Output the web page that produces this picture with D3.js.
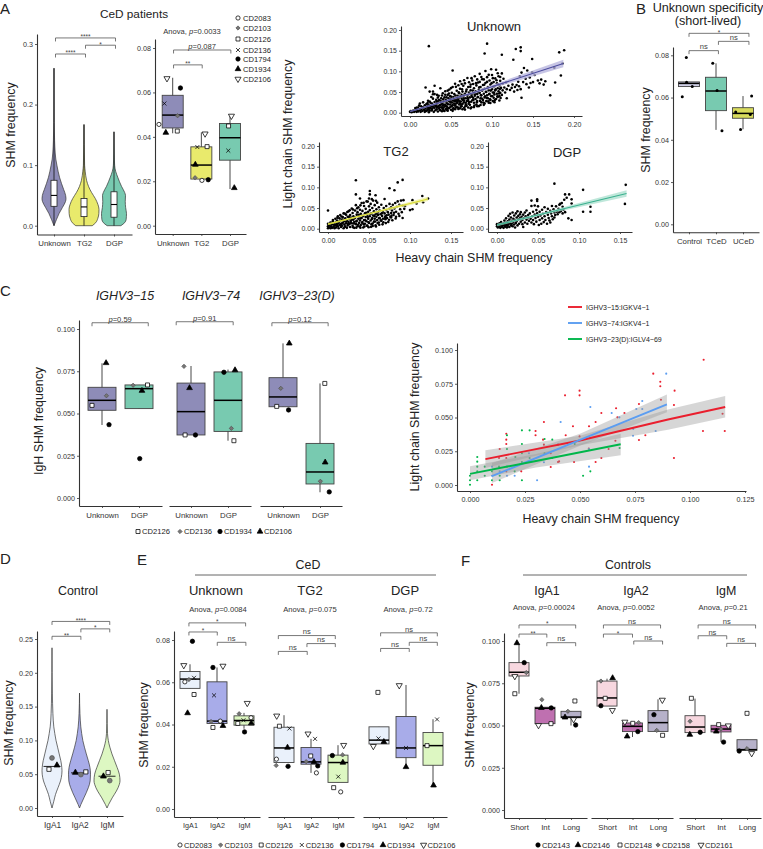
<!DOCTYPE html>
<html>
<head>
<meta charset="utf-8">
<script src="https://cdn.jsdelivr.net/npm/d3@7"></script>
<style>
body { margin: 0; background: #fff; }
svg { display: block; font-family: "Liberation Sans", Arial, sans-serif; }
</style>
</head>
<body>
<svg id="fig" width="763" height="849"></svg>
<script>
// ---------- data ----------
const cedCats = ['Unknown', 'TG2', 'DGP']
const isoCats = ['IgA1', 'IgA2', 'IgM']
const lifeCats = ['Short', 'Int', 'Long']
const bCats = ['Control', 'TCeD', 'UCeD']
const cCats = ['Unknown', 'DGP']

// violin outlines: [SHM value, relative width]
const violinUnknown = [[0,0],[.01,.2],[.02,.42],[.03,.7],[.04,.96],[.045,1],[.05,.97],[.06,.8],[.07,.62],[.08,.46],[.09,.34],[.10,.24],[.11,.15],[.12,.1],[.14,.05],[.17,.02],[.26,.005]]
const violinTG2 = [[0,.55],[.005,.78],[.012,.92],[.02,.99],[.027,1],[.035,.93],[.045,.75],[.055,.5],[.065,.3],[.075,.17],[.09,.08],[.10,.04],[.167,.005]]
const violinDGP = [[0,.55],[.005,.85],[.01,.97],[.02,1],[.03,.93],[.04,.9],[.05,.92],[.055,.85],[.065,.6],[.08,.3],[.09,.13],[.10,.05],[.12,.02],[.155,.005]]
const violinTops = [.26, .167, .155]
const violinBoxes = [[.032,.05,.075],[.015,.031,.045],[.014,.035,.056]]

const violinIgA1 = [[0,0],[.01,.18],[.02,.35],[.03,.6],[.04,.85],[.05,.98],[.055,1],[.06,.98],[.07,.88],[.08,.72],[.09,.56],[.10,.4],[.11,.28],[.12,.18],[.14,.09],[.17,.04],[.20,.015],[.237,0]]
const violinIgA2 = [[0,0],[.005,.12],[.015,.4],[.03,.8],[.04,.97],[.05,1],[.06,.95],[.07,.8],[.08,.62],[.09,.45],[.10,.3],[.11,.2],[.12,.12],[.14,.04],[.17,0]]
const violinIgM = [[0,0],[.005,.12],[.015,.4],[.025,.72],[.035,.95],[.04,1],[.05,.95],[.06,.78],[.07,.58],[.08,.38],[.09,.22],[.10,.1],[.11,.04],[.125,.015],[.146,0]]
const controlMedians = [.0615,.052,.047]
const controlPoints = [[0,0,.074,'g'],[0,-.11,.0573,'s'],[0,.18,.0632,'t'],[1,-.15,.0524,'t'],[1,.05,.0494,'g'],[1,.23,.0534,'s'],[2,-.13,.0469,'t'],[2,.04,.0524,'s'],[2,.1,.0405,'g']]

// boxes: [group, q1, median, q3, whisker low, whisker high]
const aBoxes = [[0,.044,.0498,.0587,.0416,.0666],[1,.021,.0273,.0355,.021,.042],[2,.0295,.0396,.046,.0165,.05]]
// points: [group, offset within the group, value, patient marker]
const aPoints = [[0,-.48,.0456,'o'],[0,.17,.0495,'d'],[0,.16,.0426,'s'],[0,-.29,.055,'x'],[0,.27,.062,'c'],[0,-.24,.0419,'t'],[0,-.2,.0663,'v'],
  [1,.02,.0204,'o'],[1,-.22,.0216,'d'],[1,.2,.0356,'s'],[1,-.14,.0354,'x'],[1,.24,.0207,'c'],[1,-.21,.0275,'t'],[1,.13,.0414,'v'],
  [2,-.05,.0449,'s'],[2,-.06,.0338,'x'],[2,.15,.017,'t'],[2,.05,.0494,'v']]

const bBoxes = [[0,.0652,.0667,.0674,.0652,.0674],[1,.0538,.0631,.0696,.0447,.0762],[2,.0502,.0525,.0552,.045,.0607]]
const bPoints = [[0,-.1,.079],[0,-.25,.0604],[0,-.09,.0672],[0,.12,.0652],[1,-.12,.0762],[1,.04,.0633],[1,.22,.0443],[2,.32,.0607],[2,-.27,.0532],[2,.27,.052],[2,-.09,.0449]]

const cBoxes15 = [[0,.0519,.0578,.0655,.0432,.0797],[1,.0529,.0647,.0669,.0529,.0669]]
const cPoints15 = [[0,-.27,.0548,'s'],[0,.12,.0605,'d'],[0,.19,.0434,'c'],[0,.11,.0799,'t'],[1,.23,.0669,'s'],[1,-.16,.0667,'d'],[1,.02,.0233,'c'],[1,.08,.0635,'t']]
const cBoxes74 = [[0,.0373,.0511,.068,.0373,.0781],[1,.0394,.0578,.0746,.0339,.076]]
const cPoints74 = [[0,-.16,.0373,'s'],[0,-.19,.0779,'d'],[0,.12,.0373,'c'],[0,-.04,.0651,'t'],[1,.16,.0339,'s'],[1,.09,.0412,'d'],[1,-.11,.0744,'c'],[1,.19,.0757,'t']]
const cBoxes23 = [[0,.054,.0598,.0712,.054,.0915],[1,.0083,.0154,.0323,.0034,.0678]]
const cPoints23 = [[0,-.17,.0542,'s'],[0,-.06,.0649,'d'],[0,.15,.0521,'c'],[0,.17,.0915,'t'],[1,.13,.0678,'s'],[1,.01,.0099,'d'],[1,.25,.0036,'c'],[1,.14,.0211,'t']]

const eBoxesUnknown = [[0,.0571,.0615,.0651,.0571,.0685],[1,.0405,.0416,.0602,.0405,.067],[2,.0397,.0419,.0441,.038,.0455]]
const ePointsUnknown = [[0,-.19,.0602,'o'],[0,-.04,.0613,'d'],[0,.15,.0542,'s'],[0,.15,.0621,'x'],[0,.09,.0794,'c'],[0,-.09,.0454,'t'],[0,-.23,.068,'v'],
  [1,.12,.0416,'o'],[1,-.22,.0414,'d'],[1,-.15,.0386,'s'],[1,-.11,.0538,'x'],[1,-.15,.067,'c'],[1,.22,.0394,'t'],[1,.22,.0677,'v'],
  [2,.26,.0432,'o'],[2,-.18,.0451,'d'],[2,-.23,.0405,'s'],[2,-.02,.042,'x'],[2,.02,.0365,'c'],[2,.27,.0406,'t'],[2,.12,.0501,'v']]
const eBoxesTG2 = [[0,.022,.0289,.0387,.022,.0444],[1,.0212,.0223,.0291,.0171,.0332],[2,.0126,.022,.0255,.0126,.0302]]
const ePointsTG2 = [[0,-.28,.0236,'o'],[0,-.29,.0206,'d'],[0,-.17,.0392,'s'],[0,.2,.0381,'x'],[0,.15,.0202,'c'],[0,.13,.0291,'t'],[0,-.27,.0441,'v'],
  [1,.2,.0171,'o'],[1,-.18,.0224,'d'],[1,-.01,.0251,'s'],[1,.15,.0332,'x'],[1,.25,.0204,'c'],[1,.11,.0223,'t'],[1,-.11,.0356,'v'],
  [2,.1,.0081,'o'],[2,.17,.0256,'d'],[2,-.16,.0101,'s'],[2,.01,.0153,'x'],[2,-.21,.0253,'c'],[2,.18,.022,'t'],[2,.21,.0302,'v']]
const eBoxesDGP = [[0,.0308,.0326,.0389,.0308,.0389],[1,.0243,.0289,.0438,.0199,.0587],[2,.0207,.03,.0362,.0112,.0425]]
const ePointsDGP = [[0,-.04,.0552,'s'],[0,-.02,.0334,'x'],[0,.18,.0318,'t'],[0,-.21,.0297,'v'],[1,0,.0289,'x'],[1,0,.0199,'t'],[1,-.25,.0585,'v'],[2,-.22,.03,'s'],[2,.15,.0424,'x'],[2,.02,.0112,'t']]

const fBoxesA1 = [[0,.0793,.0815,.0872,.0688,.0984],[1,.0511,.0602,.0608,.0511,.0608],[2,.0546,.055,.0584,.05,.0584]]
const fPointsA1 = [[0,-.16,.0688,'s'],[0,-.16,.0791,'v'],[0,-.08,.0988,'t'],[0,.2,.0872,'c'],[0,.28,.0813,'d'],
  [1,-.12,.0653,'d'],[1,-.14,.0605,'t'],[1,.24,.0604,'c'],[1,.23,.0511,'s'],[1,-.25,.0501,'v'],
  [2,.15,.0645,'s'],[2,-.12,.0584,'d'],[2,-.23,.0548,'t'],[2,.1,.0536,'v'],[2,.18,.0503,'c']]
const fBoxesA2 = [[0,.0615,.0663,.0763,.0615,.0777],[1,.0464,.0495,.0515,.0432,.0515],[2,.0465,.0517,.0588,.0465,.0655]]
const fPointsA2 = [[0,-.24,.0617,'c'],[0,-.24,.0763,'d'],[0,-.07,.0661,'s'],[0,.22,.0781,'t'],[0,.21,.059,'v'],
  [1,-.3,.0521,'v'],[1,.01,.0513,'s'],[1,.24,.0517,'d'],[1,.21,.0464,'c'],[1,-.21,.0436,'t'],
  [2,-.16,.0564,'c'],[2,.17,.0651,'v'],[2,-.05,.0471,'d'],[2,.18,.0442,'s']]
const fBoxesM = [[0,.0458,.0491,.0558,.0458,.0659],[1,.0462,.0479,.0501,.0402,.0501],[2,.0353,.0357,.0416,.0353,.0416]]
const fPointsM = [[0,-.14,.0661,'s'],[0,-.19,.0525,'d'],[0,-.2,.0446,'t'],[0,.2,.046,'c'],
  [1,-.09,.0505,'s'],[1,.28,.0499,'v'],[1,0,.0479,'d'],[1,-.18,.0465,'t'],[1,.1,.0402,'c'],
  [2,0,.0572,'s'],[2,0,.0363,'d'],[2,-.3,.0349,'c'],[2,.18,.0335,'v']]

// heavy vs light chain SHM, estimated from the dot clouds
const scatterUnknown = [[.023,.161],[.094,.167],[.091,.143],[.052,.102],[.129,.154],[.135,.158],[.135,.149],[.112,.14],[.149,.13],[.126,.128],[.182,.146],[.188,.151],[.186,.119],[.176,.109],[.184,.09],[.177,.073],[.171,.042],[.136,.036],[.118,.035],
[.000,.002],[.001,.004],[.002,.001],[.003,.003],[.004,.005],[.005,.002],[.006,.004],[.007,.008],[.008,.002],[.009,.006],[.010,.003],[.010,.011],[.011,.017],[.012,.006],[.012,.022],[.013,.002],[.014,.009],[.015,.004],[.016,.013],[.016,.025],[.017,.007],[.018,.002],[.018,.018],[.019,.010],[.020,.004],[.020,.021],[.021,.014],[.022,.008],[.022,.029],[.023,.001],[.024,.017],[.024,.005],[.025,.011],[.025,.024],
[.021,.006],[.022,.018],[.023,.012],[.024,.027],[.026,.015],[.027,.009],[.027,.022],[.028,.034],[.029,.002],[.029,.017],[.030,.012],[.030,.026],[.031,.006],[.032,.020],[.032,.031],[.033,.014],[.034,.003],[.034,.025],[.035,.010],[.035,.041],[.036,.018],[.037,.029],[.037,.006],[.038,.013],[.038,.035],[.039,.022],[.040,.008],[.040,.017],[.040,.047],[.019,.061],[.024,.051],[.028,.051],[.030,.065],[.030,.045],[.037,.059],[.033,.043],[.026,.038],
[.041,.012],[.041,.027],[.042,.004],[.042,.037],[.043,.019],[.043,.052],[.044,.009],[.044,.031],[.045,.023],[.045,.015],[.046,.043],[.046,.005],[.047,.028],[.047,.035],[.048,.012],[.048,.056],[.049,.020],[.049,.040],[.050,.025],[.050,.007],[.050,.033],[.051,.016],[.051,.048],[.052,.030],[.052,.062],[.053,.011],[.053,.038],[.054,.022],[.054,.045],[.055,.018],[.055,.070],[.056,.028],[.056,.034],[.057,.014],[.057,.053],[.058,.041],[.058,.024],[.059,.009],[.059,.031],[.060,.047],[.060,.037],[.060,.020],[.061,.058],[.061,.076],[.062,.027],[.062,.015],[.063,.043],[.063,.034],[.064,.051],[.064,.021],[.065,.065],[.065,.039],[.066,.012],[.066,.029],[.067,.046],[.067,.071],[.068,.035],[.068,.024],[.069,.056],[.069,.017],[.070,.041],[.070,.084],[.071,.031],[.071,.062],[.072,.049],[.072,.026],[.073,.037],[.073,.019],[.074,.054],[.074,.068],[.075,.043],[.075,.013],[.076,.030],[.076,.078],[.077,.047],[.077,.036],[.078,.059],[.078,.024],[.079,.041],[.079,.088],[.080,.052],[.080,.033],[.081,.066],[.081,.020],[.082,.045],[.082,.028],[.083,.073],[.083,.038],[.084,.056],[.084,.016],[.085,.048],[.085,.094],[.086,.035],[.086,.062],[.087,.025],[.087,.042],[.088,.081],[.088,.053],[.089,.031],[.089,.067],[.090,.046],[.090,.019],[.091,.037],[.091,.058],[.092,.101],[.092,.072],[.093,.028],[.093,.050],[.094,.042],[.094,.086],[.095,.062],[.095,.035],[.096,.024],[.096,.054],[.097,.078],[.097,.046],[.098,.068],[.098,.031],[.099,.105],[.099,.040],[.100,.057],[.100,.091],[.101,.049],[.101,.028],[.102,.074],[.102,.036],[.103,.064],[.103,.044],[.104,.083],[.104,.054],[.105,.104],[.105,.033],[.106,.071],[.106,.046],[.107,.059],[.107,.038],[.108,.088],[.108,.052],[.109,.040],[.109,.066],[.110,.077],[.110,.048],[.111,.060],[.112,.095],[.112,.043],[.113,.070],[.113,.054],[.114,.082],[.115,.061],[.116,.049],[.117,.073],[.118,.057],[.120,.065],[.122,.055],[.124,.060],[.125,.068],[.127,.051],[.128,.062],[.130,.067],[.131,.055],[.132,.075],[.133,.064],[.134,.088],[.135,.057],[.136,.097],[.138,.074],[.139,.108],[.141,.082],[.142,.069],[.143,.102],[.145,.061],[.146,.085],[.147,.072],[.149,.098],[.150,.074],[.152,.091],[.156,.078],[.158,.071],[.160,.080],[.165,.076],[.163,.068],
[.0135,.0155],[.0085,.0125],[.0065,.0115],[.0185,.0045],[.0215,.0235],[.0235,.0095],[.0265,.0055],[.0285,.0125],[.0315,.0165],[.0325,.0085],[.0335,.0235],[.0345,.0155],[.0355,.0305],[.0365,.0065],[.0375,.0195],[.0385,.0265],[.0395,.0115],[.0405,.0325],[.0415,.0055],[.0425,.0155],[.0435,.0275],[.0445,.0375],[.0455,.0105],[.0465,.0205],[.0475,.0465],[.0485,.0295],[.0495,.0145],[.0505,.0385],[.0515,.0245],[.0525,.0095],[.0535,.0315],[.0545,.0175],[.0555,.0415],[.0565,.0225],[.0575,.0345],[.0585,.0125],[.0595,.0495],[.0605,.0275],[.0615,.0395],[.0625,.0195],[.0635,.0565],[.0645,.0305],[.0655,.0245],[.0665,.0435],[.0675,.0155],[.0685,.0515],[.0695,.0285],[.0705,.0355],[.0715,.0215],[.0725,.0455],[.0735,.0625],[.0745,.0265],[.0755,.0385],[.0765,.0535],[.0775,.0315],[.0785,.0175],[.0795,.0445],[.0805,.0715],[.0815,.0255],[.0825,.0375],[.0835,.0495],[.0845,.0615],[.0855,.0285],[.0865,.0425],[.0875,.0345],[.0885,.0555],[.0895,.0245],[.0905,.0675],[.0915,.0395],[.0925,.0505],[.0935,.0355],[.0945,.0595],[.0955,.0275],[.0965,.0445],[.0975,.0325],[.0985,.0535],[.0995,.0715],[.1005,.0405],[.1015,.0625],[.1025,.0485],[.1035,.0305],[.1045,.0565],[.1055,.0785],[.1065,.0395],[.1075,.0685],[.1085,.0465],[.1095,.0575],[.1105,.0355],
[.015,.0115],[.022,.0125],[.027,.0165],[.033,.0275],[.036,.0125],[.041,.0195],[.044,.0155],[.047,.0105],[.049,.0265],[.052,.0185],[.054,.0285],[.056,.0125],[.058,.0285],[.061,.0225],[.063,.0155],[.066,.0345],[.068,.0195],
[.039,.0035],[.045,.0065],[.052,.0045],[.055,.0085],[.061,.0105],[.064,.0085],[.067,.0075],[.071,.0125],[.074,.0105],[.078,.0135],[.082,.0155],[.086,.0185],[.091,.0225],[.098,.0235],[.103,.0255],[.109,.0295],[.028,.0445],[.034,.0365],[.039,.0415],[.043,.0435],[.046,.0535],[.05,.0595],[.056,.0625],[.059,.0665],[.063,.0695],[.066,.0785],[.072,.0735],[.075,.0835],[.077,.0695],[.082,.0805],[.085,.0745],[.087,.0865],[.09,.0805],[.094,.0745],[.096,.0915],[.101,.0835],[.107,.0955],[.11,.0865]]
const scatterTG2 = [[.034,.117],[.091,.118],[.085,.112],[.075,.098],[.081,.093],[.034,.083],[.051,.091],[.051,.083],[.039,.073],[.058,.081],[.000,.044],[.122,.073],[.115,.079],[.116,.064],[.103,.069],[.108,.061],[.103,.047],[.100,.045],[.094,.055],[.091,.026],[.087,.031],[.083,.029],[.077,.027],[.070,.023],
[.000,.001],[.000,.006],[.000,.012],[.001,.003],[.002,.009],[.003,.001],[.003,.015],[.004,.006],[.005,.011],[.005,.002],[.006,.018],[.006,.021],[.007,.005],[.008,.012],[.008,.001],[.009,.008],[.009,.024],[.010,.016],[.010,.003],[.011,.011],[.011,.020],[.012,.030],[.012,.006],[.013,.014],[.013,.001],[.014,.025],[.014,.009],[.015,.019],[.015,.033],[.016,.004],[.016,.012],[.017,.022],[.017,.007],[.018,.028],[.018,.015],[.019,.001],[.019,.037],[.020,.010],[.020,.018],[.021,.025],[.021,.005],[.022,.013],[.022,.034],[.023,.020],[.023,.002],[.024,.029],[.024,.008],[.025,.016],[.025,.042],[.026,.023],[.026,.011],[.027,.033],[.027,.004],[.028,.019],[.028,.027],[.029,.049],[.029,.013],[.030,.038],[.030,.007],[.031,.022],[.031,.030],[.032,.016],[.032,.002],[.033,.044],[.033,.026],[.034,.011],[.034,.057],[.035,.034],[.035,.019],[.036,.006],[.036,.040],[.037,.024],[.037,.052],[.038,.014],[.038,.030],[.039,.020],[.039,.046],[.040,.036],[.040,.009],[.041,.026],[.041,.062],[.042,.016],[.042,.043],[.043,.031],[.043,.003],[.044,.021],[.044,.055],[.045,.037],[.045,.012],[.046,.028],[.046,.048],[.047,.066],[.047,.018],[.048,.034],[.048,.007],[.049,.041],[.049,.024],[.050,.073],[.050,.054],[.050,.014],[.051,.030],[.051,.045],[.052,.020],[.052,.060],[.053,.037],[.053,.011],[.054,.026],[.054,.050],[.055,.032],[.055,.068],[.056,.042],[.056,.017],[.057,.057],[.057,.024],[.058,.035],[.058,.008],[.059,.047],[.059,.029],[.060,.021],[.060,.063],[.061,.039],[.061,.033],[.062,.052],[.062,.015],[.063,.026],[.063,.044],[.064,.035],[.065,.058],[.065,.019],[.066,.031],[.067,.041],[.067,.024],[.068,.050],[.069,.037],[.069,.072],[.070,.030],[.071,.045],[.071,.055],[.072,.026],[.073,.040],[.074,.034],[.075,.048],[.075,.060],[.076,.029],[.077,.052],[.077,.038],[.078,.044],[.079,.058],[.080,.033],[.081,.049],[.082,.062],[.083,.041],[.084,.053],[.085,.066],[.086,.036],[.087,.058],[.088,.047],[.089,.068],[.090,.040],[.091,.056],[.092,.069],[.093,.048],
[.0015,.0075],[.0045,.0135],[.0075,.0095],[.0105,.0075],[.0125,.0165],[.0155,.0085],[.0175,.0125],[.0185,.0215],[.0205,.0055],[.0225,.0175],[.0245,.0115],[.0255,.0285],[.0275,.0145],[.0295,.0225],[.0305,.0035],[.0315,.0125],[.0325,.0275],[.0345,.0175],[.0365,.0095],[.0375,.0335],[.0385,.0055],[.0395,.0245],[.0415,.0145],[.0425,.0305],[.0435,.0105],[.0455,.0205],[.0465,.0385],[.0475,.0075],[.0485,.0285],[.0495,.0155],[.0515,.0355],[.0525,.0045],[.0535,.0235],[.0545,.0125],[.0565,.0305],[.0575,.0175],[.0595,.0385],[.0605,.0135],[.0625,.0255],[.0645,.0205],[.0655,.0375],[.0675,.0155],[.0695,.0265],[.0715,.0325],[.0745,.0215],[.0775,.0315],[.0805,.0385],
[.0345,.0025],[.0395,.0025],[.0445,.0055],[.0495,.0035],[.0545,.0065],[.0585,.0055],[.0625,.0095],[.0665,.0105],[.0705,.0135],[.0735,.0165],[.0785,.0205],[.0825,.0245],[.0115,.0265],[.0165,.0295],[.0205,.0365],[.0235,.0405],[.0265,.0445],[.0305,.0465],[.0355,.0495],[.0395,.0565],[.0435,.0625],[.0485,.0655],[.0535,.0715],[.0585,.0675]]
const scatterDGP = [[.070,.109],[.157,.106],[.156,.060],[.105,.094],[.105,.041],[.114,.053],[.114,.041],[.083,.083],[.088,.083],[.085,.075],[.091,.071],[.091,.061],[.087,.025],[.091,.021],[.049,.071],[.042,.068],[.049,.067],
[.000,.006],[.000,.011],[.001,.003],[.002,.009],[.003,.013],[.003,.005],[.004,.002],[.005,.008],[.005,.016],[.006,.011],[.006,.004],[.007,.007],[.008,.013],[.008,.002],[.009,.009],[.009,.020],[.010,.005],[.010,.014],[.011,.008],[.011,.025],[.012,.003],[.012,.012],[.013,.018],[.013,.007],[.014,.031],[.014,.011],[.015,.004],[.015,.022],[.016,.014],[.016,.036],[.017,.008],[.017,.027],[.018,.019],[.018,.012],[.019,.039],[.019,.006],[.020,.024],[.020,.016],[.021,.032],[.021,.010],[.022,.021],[.022,.003],[.023,.037],[.023,.014],[.024,.027],[.024,.018],[.025,.042],[.025,.008],[.026,.031],[.026,.022],[.027,.012],[.028,.035],[.028,.025],[.029,.017],[.029,.040],[.030,.029],[.031,.021],[.031,.011],[.032,.034],[.032,.004],[.033,.026],[.034,.015],[.034,.039],[.035,.030],[.036,.022],[.036,.044],[.037,.012],[.038,.033],[.038,.027],[.039,.019],[.040,.037],[.041,.024],[.042,.055],[.042,.015],[.043,.030],[.044,.041],[.044,.021],[.045,.011],[.046,.034],[.046,.056],[.047,.026],[.048,.045],[.048,.017],[.049,.037],[.050,.029],[.050,.054],[.051,.009],[.052,.041],[.052,.021],[.053,.032],[.054,.012],[.055,.046],[.055,.025],[.056,.036],[.057,.016],[.058,.052],[.058,.030],[.059,.021],[.060,.040],[.061,.012],[.062,.034],[.062,.048],[.063,.026],[.064,.020],[.065,.043],[.065,.015],[.066,.037],[.067,.055],[.067,.030],[.068,.023],[.069,.047],[.070,.039],[.070,.027],[.071,.033],[.072,.054],[.073,.041],[.074,.035],[.075,.048],[.076,.040],[.076,.058],[.077,.060],[.078,.043],[.079,.062],[.080,.037],[.080,.053],[.081,.046],[.082,.070],[.083,.040]]

const scatterRed = [[.1062,.0928],[.0833,.0825],[.0865,.0765],[.0865,.0731],[.0498,.0699],[.093,.0699],[.0432,.0664],[.0498,.0664],[.0868,.0632],[.0927,.0593],[.0768,.06],[.0664,.0568],[.0702,.0533],[.0597,.0533],[.1148,.0528],[.067,.0501],[.0571,.0467],[.0336,.0467],[.0468,.0435],[.0541,.0435],[.0298,.04],[.1059,.04],[.1158,.04],[.0298,.0368],[.0435,.0368],[.0797,.0368],[.0165,.038],[.0165,.0336],[.0165,.0304],[.0332,.0336],[.0768,.0333],[.0661,.0328],[.0336,.0299],[.04,.0299],[.0135,.0267],[.063,.0267],[.0367,.0235],[.0132,.02],[.0165,.02],[.0597,.02],[.0927,.02],[.0571,.017],[.0473,.017],[.04,.017],[.0405,.0175],[.0367,.0133],[.0233,.0101],[.0165,.0101],[.01,.0002],[.054,.027],[.0498,.036]]
const scatterBlue = [[.0892,.0825],[.0547,.0578],[.0783,.0622],[.0756,.0563],[.0783,.0563],[.0644,.0533],[.0679,.0501],[.0412,.0467],[.0742,.0415],[.0844,.04],[.0741,.0365],[.0512,.0331],[.0541,.0267],[.0541,.0136],[.0336,.0168],[.01,.0136],[.0135,.0101],[.0168,.0069],[.0203,.0069],[.0305,.0035],[.01,.0069],[.0268,.0235],[.04,.0299]]
const scatterGreen = [[0,.0002],[0,.0035],[0,.0069],[.0033,.0207],[.0033,.0173],[.0033,.0136],[.0033,.0101],[.0033,.0035],[.0067,.0136],[.0067,.0069],[.01,.0035],[.01,.0101],[.0135,.0069],[.0135,.0035],[.0132,.0136],[.0168,.0368],[.0168,.0267],[.0168,.0136],[.0206,.0207],[.0203,.0101],[.0236,.0035],[.0236,.0304],[.0236,.0235],[.0236,.017],[.0236,.0405],[.0271,.0405],[.0271,.02],[.0339,.0341],[.0339,.0235],[.0374,.0336],[.0374,.02],[.0476,.0304],[.0514,.0069],[.0547,.0101],[.068,.0274]]

// regression fits: [x, ci low, fit, ci high]
const fitUnknown = [[0,.001,.003,.005],[.08,.047,.05,.053],[.187,.110,.119,.128]]
const fitTG2 = [[0,.009,.011,.013],[.05,.034,.036,.038],[.122,.067,.072,.077]]
const fitDGP = [[0,.006,.009,.012],[.06,.035,.038,.041],[.158,.077,.085,.093]]
const fitRed = [[.007,.0126,.0192,.0257],[.05,.0295,.033,.0365],[.09,.041,.0485,.056],[.116,.050,.0578,.066]]
const fitBlue = [[.01,.0015,.0065,.0163],[.05,.029,.0335,.038],[.0895,.0538,.0598,.067]]
const fitGreen = [[0,.0035,.0082,.0138],[.03,.013,.0178,.023],[.0685,.0221,.0302,.038]]
const fitLegend = ['IGHV3\u221215:IGKV4\u22121', 'IGHV3\u221274:IGKV4\u22121', 'IGHV3\u221223(D):IGLV4\u221269']

// brackets: [from, to, value, label]
const aViolinBrackets = [[.05,2.05,.31,'****'],[1.05,2.05,.298,'*'],[.05,1.05,.2835,'****']]
const aBoxBrackets = [[.03,2.03,.0791,'p=0.087'],[.03,1.03,.0724,'**']]
const bBrackets = [[0,2.22,.0904,'*'],[1.09,2.22,.0866,'ns'],[0,1.09,.0822,'ns']]
const cBrackets = [[-.27,1.25,.1037,'p=0.59'],[-.4,1.14,.1043,'p=0.91'],[-.3,1.22,.1037,'p=0.12']]
const dBrackets = [[0,2.1,.276,'****'],[1.05,2.1,.265,'*'],[0,1.05,.254,'**']]
const eBrackets = [[[-.04,2.06,.0881,'*'],[-.04,1.01,.0838,'*'],[1.01,2.07,.0789,'ns']],
  [[-.21,1.9,.0821,'ns'],[.85,1.9,.0783,'ns'],[-.21,.86,.0746,'ns']],
  [[.06,2.16,.0834,'ns'],[1.12,2.16,.0789,'ns'],[.06,1.12,.076,'ns']]]
const fBrackets = [[[0,2.18,.1095,'*'],[0,1.07,.1041,'**'],[1.07,2.18,.099,'ns']],
  [[-.14,2.1,.1095,'ns'],[-.14,1,.1041,'*'],[1.05,2.18,.1,'ns']],
  [[.12,2.33,.1095,'ns'],[.12,1.22,.1031,'ns'],[1.22,2.33,.0986,'ns']]]

const legendA = [['o','CD2083'],['d','CD2103'],['s','CD2126'],['x','CD2136'],['c','CD1794'],['t','CD1934'],['v','CD2106']]
const legendC = [['s','CD2126'],['d','CD2136'],['c','CD1934'],['t','CD2106']]
const legendF = [['c','CD2143'],['t','CD2146'],['s','CD2148'],['d','CD2158'],['v','CD2161']]

// ---------- colours ----------
const purple = '#8e8cb8', yellow = '#e9ea6c', teal = '#78cab0'
const isoColours = ['#eaf1fb', '#a8ace9', '#ddf7c2']
const lifeColours = ['#f7d7df', '#bf70b0', '#b6b1c9']

// ---------- helpers ----------
const svg = d3.select('#fig')
const axisCol = '#333'
const tickSize = 7.2, catSize = 7.8, titleSize = 12.4, labelSize = 7.6

function text(parent, x, y, str, size, opts = {}) {
    return parent.append('text')
        .attr('x', x).attr('y', y)
        .attr('font-size', size)
        .attr('fill', opts.fill || '#222')
        .attr('text-anchor', opts.anchor || 'middle')
        .attr('font-style', opts.italic ? 'italic' : null)
        .text(str)
}

function vText(x, y, str, size) {
    svg.append('text')
        .attr('transform', `translate(${x},${y}) rotate(-90)`)
        .attr('text-anchor', 'middle')
        .attr('font-size', size)
        .attr('fill', '#222')
        .text(str)
}

// p labels carry an italic p
function pText(x, y, str, size) {
    let t = svg.append('text').attr('x', x).attr('y', y).attr('font-size', size)
        .attr('text-anchor', 'middle').attr('fill', '#333')
    let i = str.indexOf('p=')
    t.append('tspan').text(str.slice(0, i))
    t.append('tspan').attr('font-style', 'italic').text('p')
    t.append('tspan').text(str.slice(i + 1))
}

function extended(scale, a, b) {
    return d3.scaleLinear().domain([scale.invert(a), scale.invert(b)]).range([a, b])
}

function styleAxis(g, size) {
    g.select('.domain').attr('stroke', axisCol).attr('stroke-width', 1.1)
    g.selectAll('.tick line').attr('stroke', axisCol).attr('stroke-width', .8)
    g.selectAll('.tick text').attr('fill', '#333').attr('font-size', size).attr('font-family', 'inherit')
}

function yAxis(p, ticks, fmt, size) {
    let g = svg.append('g').attr('transform', `translate(${p.left},0)`)
        .call(d3.axisLeft(p.y).tickValues(ticks).tickFormat(d3.format(fmt)).tickSize(2).tickPadding(2).tickSizeOuter(0))
    styleAxis(g, size)
}

function catAxis(p, cats, size) {
    let g = svg.append('g').attr('transform', `translate(0,${p.bottom})`)
        .call(d3.axisBottom(p.x).tickValues(cats.map((c, i) => i)).tickFormat(i => cats[i]).tickSize(2).tickPadding(4).tickSizeOuter(0))
    styleAxis(g, size)
}

// px box: pixel frame of a panel, category centres and the y reference
function panel(f) {
    let sx = d3.scaleLinear().domain([0, f.n - 1]).range([f.first, f.last])
    let sy = d3.scaleLinear().domain([0, f.vmax]).range([f.zero, f.ymax])
    return {
        left: f.left, right: f.right, top: f.top, bottom: f.bottom,
        x: extended(sx, f.left, f.right), y: extended(sy, f.bottom, f.top)
    }
}

function drawBoxes(p, rows, colours, w) {
    let g = svg.append('g')
    rows.forEach(r => {
        let [i, q1, med, q3, lo, hi] = r
        let cx = p.x(i)
        g.append('line').attr('x1', cx).attr('x2', cx).attr('y1', p.y(lo)).attr('y2', p.y(hi))
            .attr('stroke', '#333').attr('stroke-width', .9)
        g.append('rect').attr('x', cx - w / 2).attr('width', w)
            .attr('y', p.y(q3)).attr('height', p.y(q1) - p.y(q3))
            .attr('fill', colours[i]).attr('stroke', '#444').attr('stroke-width', .9)
        g.append('line').attr('x1', cx - w / 2).attr('x2', cx + w / 2).attr('y1', p.y(med)).attr('y2', p.y(med))
            .attr('stroke', '#000').attr('stroke-width', 1.5)
    })
}

const symbols = { o: d3.symbolCircle, d: d3.symbolSquare, s: d3.symbolSquare, c: d3.symbolCircle, t: d3.symbolTriangle, v: d3.symbolTriangle, x: d3.symbolTimes, g: d3.symbolCircle }

function marker(parent, x, y, m, scale = 1) {
    let area = { o: 14, d: 9, s: 16, c: 15, t: 14, v: 16, x: 12, g: 16 }[m] * scale
    let fill = { o: '#fff', d: '#777', s: '#fff', c: '#000', t: '#000', v: '#fff', x: 'none', g: '#777' }[m]
    let rot = m === 'v' ? ' rotate(180)' : m === 'd' ? ' rotate(45)' : ''
    parent.append('path')
        .attr('d', d3.symbol().type(symbols[m]).size(area)())
        .attr('transform', `translate(${x},${y})${rot}`)
        .attr('fill', fill)
        .attr('stroke', m === 'g' || m === 'd' ? '#555' : '#000')
        .attr('stroke-width', .75)
}

function drawPoints(p, rows, scale) {
    let g = svg.append('g')
    rows.forEach(r => marker(g, p.x(r[0] + r[1]), p.y(r[2]), r[3], scale))
}

function drawBrackets(p, rows, size) {
    rows.forEach(r => {
        let x1 = p.x(r[0]), x2 = p.x(r[1]), y = p.y(r[2])
        svg.append('path')
            .attr('d', d3.line()([[x1, y + 3.5], [x1, y], [x2, y], [x2, y + 3.5]]))
            .attr('fill', 'none').attr('stroke', '#555').attr('stroke-width', .8)
        let cx = (x1 + x2) / 2
        if (r[3][0] === 'p') pText(cx, y - .8, r[3], size)
        else if (r[3] === 'ns') text(svg, cx, y - 1.2, 'ns', size, { fill: '#444' })
        else text(svg, cx, y + 1.5, r[3], 6.5, { fill: '#444' })
    })
}

function drawViolin(p, i, outline, colour, hw) {
    let w = d3.scaleLinear().domain([0, 1]).range([0, hw])
    let cx = p.x(i)
    svg.append('path')
        .datum(outline)
        .attr('d', d3.area().curve(d3.curveMonotoneY)
            .y(d => p.y(d[0])).x0(d => cx - w(d[1])).x1(d => cx + w(d[1])))
        .attr('fill', colour).attr('stroke', '#333').attr('stroke-width', .7)
}

function scatterPanel(f, pts, fit, line, band, title, tx, ty) {
    let x = d3.scaleLinear().domain([0, .05]).range([f.x0, f.x05])
    let y = d3.scaleLinear().domain([0, .2]).range([f.y0, f.y20])
    let ex = extended(x, f.left, f.right), ey = extended(y, f.bottom, f.top)
    let xg = svg.append('g').attr('transform', `translate(0,${f.bottom})`)
        .call(d3.axisBottom(ex).tickValues(f.xticks).tickFormat(d3.format('.2f')).tickSize(2).tickPadding(4).tickSizeOuter(0))
    let yg = svg.append('g').attr('transform', `translate(${f.left},0)`)
        .call(d3.axisLeft(ey).tickValues([0, .05, .1, .15, .2]).tickFormat(d3.format('.2f')).tickSize(2).tickPadding(2).tickSizeOuter(0))
    styleAxis(xg, 7); styleAxis(yg, 7)
    svg.append('g').selectAll('circle').data(pts).join('circle')
        .attr('cx', d => ex(d[0])).attr('cy', d => ey(d[1])).attr('r', 1.3).attr('fill', '#000')
    svg.append('path').datum(fit)
        .attr('d', d3.area().x(d => ex(d[0])).y0(d => ey(d[1])).y1(d => ey(d[3])))
        .attr('fill', band).attr('opacity', .75)
    svg.append('path').datum(fit)
        .attr('d', d3.line().x(d => ex(d[0])).y(d => ey(d[2])))
        .attr('fill', 'none').attr('stroke', line).attr('stroke-width', 1.1)
    text(svg, tx, ty, title, 13)
}

// ---------- panel letters ----------
text(svg, 0, 14, 'A', 15, { anchor: 'start' })
text(svg, 636, 14, 'B', 15, { anchor: 'start' })
text(svg, 0, 296, 'C', 15, { anchor: 'start' })
text(svg, 0, 564, 'D', 15, { anchor: 'start' })
text(svg, 137, 565, 'E', 15, { anchor: 'start' })
text(svg, 461, 566, 'F', 15, { anchor: 'start' })

// ---------- A: violins ----------
text(svg, 134, 18, 'CeD patients', 11.8)
vText(15, 125, 'SHM frequency', titleSize)
let aV = panel({ left: 37, right: 132, top: 34, bottom: 234.5, zero: 225.7, vmax: .3, ymax: 44, first: 54, last: 114, n: 3 })
;[violinUnknown, violinTG2, violinDGP].forEach((v, i) => {
    drawViolin(aV, i, v, [purple, yellow, teal][i], [12, 15, 12.5][i])
    let cx = aV.x(i)
    svg.append('line').attr('x1', cx).attr('x2', cx).attr('y1', aV.y(0)).attr('y2', aV.y(violinTops[i]))
        .attr('stroke', '#111').attr('stroke-width', .8)
    let b = violinBoxes[i]
    svg.append('rect').attr('x', cx - 3).attr('width', 6).attr('y', aV.y(b[2])).attr('height', aV.y(b[0]) - aV.y(b[2]))
        .attr('fill', '#fff').attr('stroke', '#222').attr('stroke-width', .8)
    svg.append('line').attr('x1', cx - 3).attr('x2', cx + 3).attr('y1', aV.y(b[1])).attr('y2', aV.y(b[1]))
        .attr('stroke', '#000').attr('stroke-width', 1.1)
})
yAxis(aV, [0, .1, .2, .3], '.1f', tickSize)
catAxis(aV, cedCats, catSize)
drawBrackets(aV, aViolinBrackets, 6.5)

// ---------- A: patient boxes ----------
let aB = panel({ left: 155, right: 246, top: 39, bottom: 234, zero: 225.7, vmax: .08, ymax: 48, first: 172.7, last: 230, n: 3 })
pText(192, 33.5, 'Anova, p=0.0033', labelSize)
drawBoxes(aB, aBoxes, [purple, yellow, teal], 21)
drawPoints(aB, aPoints)
yAxis(aB, [0, .02, .04, .06, .08], '.2f', tickSize)
catAxis(aB, cedCats, catSize)
drawBrackets(aB, aBoxBrackets, labelSize)
legendA.forEach((d, i) => {
    let y = [18, 28, 39, 50, 59, 69, 79][i]
    marker(svg, 238, y, d[0])
    text(svg, 243, y + 2.6, d[1], labelSize, { anchor: 'start' })
})

// ---------- A: scatter ----------
vText(292, 134, 'Light chain SHM frequency', titleSize)
text(svg, 474, 262, 'Heavy chain SHM frequency', titleSize)
scatterPanel({ left: 401, right: 582, top: 26, bottom: 116, x0: 410, x05: 451, y0: 112.7, y20: 30, xticks: [0, .05, .1, .15, .2] },
    scatterUnknown, fitUnknown, '#4b4b9d', '#b4b2dc', 'Unknown', 494, 31)
scatterPanel({ left: 319, right: 463, top: 142, bottom: 232, x0: 328, x05: 369, y0: 228.7, y20: 146, xticks: [0, .05, .1, .15] },
    scatterTG2, fitTG2, '#d7da2b', '#eeef9a', 'TG2', 396, 156)
scatterPanel({ left: 488, right: 632, top: 142, bottom: 232, x0: 497, x05: 538, y0: 228.7, y20: 146, xticks: [0, .05, .1, .15] },
    scatterDGP, fitDGP, '#3bb18f', '#a9dfcd', 'DGP', 567, 157)

// ---------- B ----------
text(svg, 708, 12, 'Unknown specificity', 12.6)
text(svg, 708, 25, '(short-lived)', 12.6)
vText(650, 130, 'SHM frequency', titleSize)
let pB = panel({ left: 673, right: 759, top: 47, bottom: 232.3, zero: 224.3, vmax: .08, ymax: 55.3, first: 689, last: 743, n: 3 })
drawBoxes(pB, bBoxes, ['#d0cfe6', teal, '#d8db5c'], 21)
svg.append('g').selectAll('circle').data(bPoints).join('circle')
    .attr('cx', d => pB.x(d[0] + d[1])).attr('cy', d => pB.y(d[2])).attr('r', 1.5).attr('fill', '#000')
yAxis(pB, [0, .02, .04, .06, .08], '.2f', tickSize)
catAxis(pB, bCats, catSize)
drawBrackets(pB, bBrackets, labelSize)

// ---------- C: boxes ----------
vText(43, 421, 'IgH SHM frequency', titleSize)
let cFrames = [[79, 162, 102, 139, 125, 'IGHV3\u221215', cBoxes15, cPoints15], [169, 251, 191, 228, 211, 'IGHV3\u221274', cBoxes74, cPoints74], [260, 342, 283, 320, 297, 'IGHV3\u221223(D)', cBoxes23, cPoints23]]
cFrames.forEach((c, i) => {
    let p = panel({ left: c[0], right: c[1], top: 320, bottom: 506, zero: 498, vmax: .1, ymax: 329, first: c[2], last: c[3], n: 2 })
    text(svg, c[4], 300, c[5], titleSize, { italic: true })
    drawBoxes(p, c[6], [purple, teal], 28)
    drawPoints(p, c[7])
    if (i === 0) yAxis(p, [0, .025, .05, .075, .1], '.3f', tickSize)
    catAxis(p, cCats, catSize)
    drawBrackets(p, [cBrackets[i]], labelSize)
})
legendC.forEach((d, i) => {
    let x = [138, 180, 220, 260][i]
    marker(svg, x, 531.5, d[0])
    text(svg, x + 4, 534.2, d[1], labelSize, { anchor: 'start' })
})

// ---------- C: scatter ----------
vText(419, 417, 'Light chain SHM frequency', titleSize)
text(svg, 601, 523, 'Heavy chain SHM frequency', titleSize)
let cx = d3.scaleLinear().domain([0, .125]).range([470, 745])
let cy = d3.scaleLinear().domain([0, .1]).range([485, 350])
let ecx = extended(cx, 457, 746), ecy = extended(cy, 491, 343)
let cxg = svg.append('g').attr('transform', 'translate(0,491)')
    .call(d3.axisBottom(ecx).tickValues([0, .025, .05, .075, .1, .125]).tickFormat(d3.format('.3f')).tickSize(2).tickPadding(4).tickSizeOuter(0))
let cyg = svg.append('g').attr('transform', 'translate(457,0)')
    .call(d3.axisLeft(ecy).tickValues([0, .025, .05, .075, .1]).tickFormat(d3.format('.3f')).tickSize(2).tickPadding(2).tickSizeOuter(0))
styleAxis(cxg, tickSize); styleAxis(cyg, tickSize)
let cSeries = [[scatterRed, fitRed, '#ea1f2e'], [scatterBlue, fitBlue, '#5b9df1'], [scatterGreen, fitGreen, '#00b64a']]
cSeries.forEach(s => {
    svg.append('g').selectAll('circle').data(s[0]).join('circle')
        .attr('cx', d => ecx(d[0])).attr('cy', d => ecy(d[1])).attr('r', 1.05).attr('fill', s[2])
})
cSeries.forEach(s => {
    svg.append('path').datum(s[1])
        .attr('d', d3.area().x(d => ecx(d[0])).y0(d => ecy(d[1])).y1(d => ecy(d[3])))
        .attr('fill', '#999').attr('opacity', .4)
})
cSeries.forEach(s => {
    svg.append('path').datum(s[1])
        .attr('d', d3.line().x(d => ecx(d[0])).y(d => ecy(d[2])))
        .attr('fill', 'none').attr('stroke', s[2]).attr('stroke-width', 1.9)
})
fitLegend.forEach((d, i) => {
    let y = [307, 323, 339][i]
    svg.append('line').attr('x1', 568).attr('x2', 582).attr('y1', y).attr('y2', y)
        .attr('stroke', cSeries[i][2]).attr('stroke-width', 1.9)
    text(svg, 586, y + 2.5, d, 7, { anchor: 'start' })
})

// ---------- D ----------
text(svg, 78, 595, 'Control', titleSize)
vText(12.5, 723, 'SHM frequency', titleSize)
let pD = panel({ left: 37, right: 123, top: 631, bottom: 816, zero: 808, vmax: .25, ymax: 639, first: 52, last: 107, n: 3 })
;[violinIgA1, violinIgA2, violinIgM].forEach((v, i) => {
    drawViolin(pD, i, v, isoColours[i], [10, 11, 13][i])
    let c = pD.x(i)
    svg.append('line').attr('x1', c - 8.5).attr('x2', c + 8.5).attr('y1', pD.y(controlMedians[i])).attr('y2', pD.y(controlMedians[i]))
        .attr('stroke', '#111').attr('stroke-width', .9)
})
drawPoints(pD, controlPoints, 1.1)
yAxis(pD, [0, .05, .1, .15, .2, .25], '.2f', tickSize)
catAxis(pD, isoCats, 8.4)
drawBrackets(pD, dBrackets, 6.5)

// ---------- E ----------
text(svg, 308, 569, 'CeD', titleSize)
svg.append('line').attr('x1', 195).attr('x2', 436).attr('y1', 575).attr('y2', 575).attr('stroke', '#555').attr('stroke-width', .9)
vText(148, 725, 'SHM frequency', titleSize)
let eFrames = [[174, 260, 190, 244, 216, 'Unknown', 218, 'Anova, p=0.0084', eBoxesUnknown, ePointsUnknown],
    [268, 354, 284, 338, 310, 'TG2', 310, 'Anova, p=0.075', eBoxesTG2, ePointsTG2],
    [363, 447, 379, 433, 405, 'DGP', 408, 'Anova, p=0.72', eBoxesDGP, ePointsDGP]]
eFrames.forEach((c, i) => {
    let p = panel({ left: c[0], right: c[1], top: 631, bottom: 817, zero: 809, vmax: .08, ymax: 640, first: c[2], last: c[3], n: 3 })
    text(svg, c[4], 595, c[5], 13)
    pText(c[6], 612, c[7], labelSize)
    drawBoxes(p, c[8], isoColours, 20)
    drawPoints(p, c[9])
    if (i === 0) yAxis(p, [0, .02, .04, .06, .08], '.2f', tickSize)
    catAxis(p, isoCats, tickSize)
    drawBrackets(p, eBrackets[i], labelSize)
})
legendA.forEach((d, i) => {
    let x = 180 + i * 40.6
    marker(svg, x, 845, d[0])
    text(svg, x + 4, 847.5, d[1], labelSize, { anchor: 'start' })
})

// ---------- F ----------
text(svg, 628, 569, 'Controls', titleSize)
svg.append('line').attr('x1', 523).attr('x2', 747).attr('y1', 575).attr('y2', 575).attr('stroke', '#555').attr('stroke-width', .9)
vText(474, 725, 'SHM frequency', titleSize)
let fFrames = [[504, 587, 519, 571, 547, 'IgA1', 544, 'Anova, p=0.00024', fBoxesA1, fPointsA1],
    [591, 673, 607, 658, 636, 'IgA2', 626, 'Anova, p=0.0052', fBoxesA2, fPointsA2],
    [679, 761, 695, 747, 726, 'IgM', 723, 'Anova, p=0.21', fBoxesM, fPointsM]]
fFrames.forEach((c, i) => {
    let p = panel({ left: c[0], right: c[1], top: 633, bottom: 818, zero: 810, vmax: .1, ymax: 641, first: c[2], last: c[3], n: 3 })
    text(svg, c[4], 595, c[5], titleSize)
    pText(c[6], 610, c[7], labelSize)
    drawBoxes(p, c[8], lifeColours, 20)
    drawPoints(p, c[9])
    if (i === 0) yAxis(p, [0, .025, .05, .075, .1], '.3f', tickSize)
    catAxis(p, lifeCats, catSize)
    drawBrackets(p, fBrackets[i], labelSize)
})
legendF.forEach((d, i) => {
    let x = [538, 578, 620, 658, 701][i]
    marker(svg, x, 845, d[0])
    text(svg, x + 4, 847.5, d[1], labelSize, { anchor: 'start' })
})
</script>
</body>
</html>
